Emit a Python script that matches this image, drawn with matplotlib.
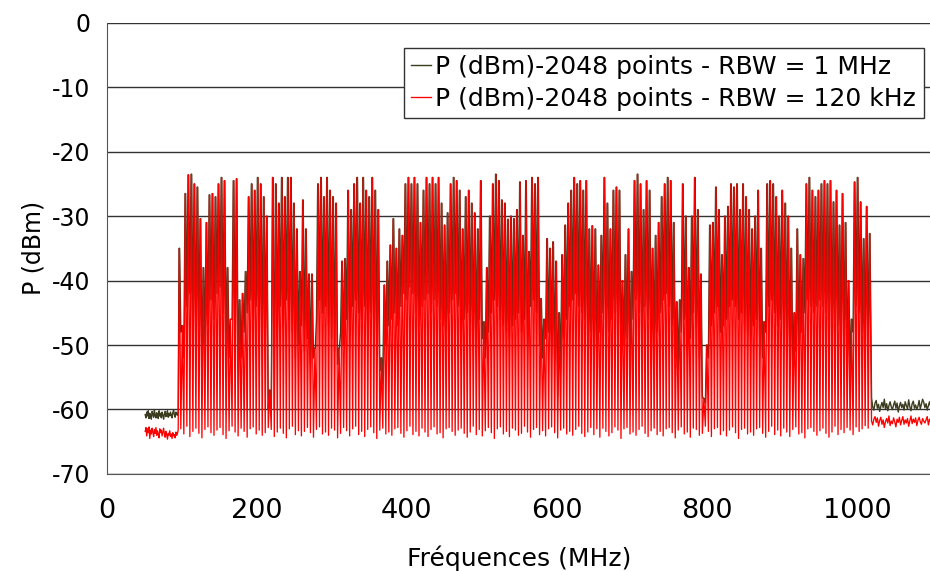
import numpy as np
import matplotlib
matplotlib.use("Agg")
import matplotlib.pyplot as plt

plt.rcParams['font.family'] = ['DejaVu Sans']
plt.rcParams['axes.unicode_minus'] = False

# carrier frequencies of the spectrum (MHz), one carrier every ~4 MHz
carrier_start = 96.5
carrier_step = 4.02
rbw_1mhz_halfwidth = 0.4  # a carrier seen through a 1 MHz filter is wider

# carrier peak levels (dBm) left to right
carrier_dbm = [
    -35, -47, -26.5, -23.6, -23.5, -25, -25.5, -30.4, -38, -31,
    -26.7, -26.5, -27, -25, -24, -24.5, -38, -46, -24.5, -24.2,
    -43, -42, -38.6, -27, -25, -26, -24, -25, -27, -30,
    -57, -24, -25, -28, -24, -27, -24, -24, -28, -32,
    -38.6, -27.5, -32, -39, -39, -50.5, -25, -24, -27, -24,
    -26, -27, -28, -50.5, -37, -36.6, -26, -29, -25, -24,
    -28, -24, -26, -27, -24, -26, -29, -52, -40.7, -37,
    -34.5, -30.4, -35, -32, -33, -25, -24, -25, -24, -25,
    -31, -26, -24, -25, -24, -25, -24, -28, -31.4, -29.5,
    -25, -24, -24.5, -26, -32, -27, -26, -28, -29.5, -32,
    -24.5, -46.4, -38, -30, -25, -23.5, -24.5, -27.5, -28, -30.5,
    -30, -30.4, -29, -24.7, -33, -24.5, -35.5, -24, -25, -24,
    -42.8, -46, -33.5, -35, -34, -37, -45, -36, -31.4, -28,
    -26, -24, -25, -24.5, -26, -24.5, -32, -31.5, -32, -37.6,
    -33, -24, -28, -32, -26, -25.5, -26, -40, -36, -32,
    -38.6, -24.5, -23.5, -25, -29, -24.5, -26, -35, -33, -31,
    -27, -25, -24, -24.5, -31, -43.3, -43, -25, -30, -38,
    -30, -24, -29, -39, -58.3, -50, -31.4, -31, -25.5, -29,
    -36, -30, -28.5, -25, -25.5, -25, -29, -25, -27, -29,
    -32, -30, -26, -35, -46.4, -25, -24.5, -25, -27, -30,
    -26, -28, -30, -35, -45, -32, -36, -36.6, -25, -24,
    -26, -27, -26, -25, -24.5, -25, -24.5, -27.8, -26, -31.4,
    -26.5, -31, -40, -46, -24.7, -24, -27.8, -33.5, -28.5, -32.7,
]

# level between two carriers with RBW = 1 MHz (dBm)
valley_1mhz = [
    -48, -52, -44, -42, -46, -49, -47, -54, -50, -47,
    -43, -46, -42, -41, -45, -50, -52, -46, -49, -54,
    -52, -48, -45, -43, -46, -44, -47, -50, -48, -60,
    -59, -60, -49, -44, -47, -43, -46, -48, -52, -50,
    -47, -51, -49, -53, -52, -46, -43, -45, -44, -47,
    -49, -51, -53, -48, -50, -46, -48, -44, -43, -45,
    -46, -44, -48, -45, -47, -50, -54, -56, -50, -47,
    -46, -45, -47, -44, -42, -43, -41, -42, -45, -47,
    -44, -43, -42, -45, -43, -44, -46, -47, -48, -45,
    -43, -42, -44, -48, -46, -45, -47, -49, -50, -46,
    -49, -52, -48, -45, -43, -44, -46, -47, -48, -49,
    -47, -46, -45, -48, -46, -50, -44, -43, -45, -50,
    -52, -49, -48, -50, -52, -58, -54, -49, -46, -44,
    -43, -42, -44, -45, -46, -49, -48, -50, -52, -48,
    -45, -47, -48, -46, -45, -47, -52, -50, -49, -54,
    -46, -43, -45, -47, -44, -46, -49, -50, -48, -45,
    -43, -42, -44, -47, -52, -54, -48, -46, -51, -49,
    -45, -47, -52, -58, -59, -52, -47, -45, -44, -48,
    -47, -46, -44, -43, -44, -46, -45, -47, -48, -49,
    -47, -46, -49, -52, -48, -44, -43, -45, -47, -46,
    -47, -49, -52, -54, -51, -50, -48, -45, -43, -44,
    -45, -44, -43, -44, -45, -46, -47, -46, -47, -49,
    -50, -52, -54, -48, -44, -45, -48, -49, -50,
]

# level between two carriers with RBW = 120 kHz (dBm)
valley_120k = [
    -63.0, -63.8, -62.6, -64.2, -63.4, -62.9, -63.7, -64.4, -63.1, -62.7,
    -63.6, -64.0, -63.2, -62.8, -63.9, -64.5, -63.3, -62.6, -63.5, -64.1,
    -62.9, -63.4, -64.3, -63.0, -62.7, -63.8, -63.2, -64.0, -63.6, -62.8,
    -63.1, -64.2, -63.5, -62.9, -63.7, -64.4, -63.0, -62.6, -63.9, -63.3,
    -64.1, -63.4, -62.8, -63.6, -64.3, -63.1, -62.7, -63.8, -63.5, -64.0,
    -62.9, -63.2, -64.4, -63.7, -62.8, -63.3, -64.1, -63.0, -62.6, -63.9,
    -63.4, -64.2, -63.1, -62.7, -63.6, -64.5, -63.2, -62.9, -63.8, -63.5,
    -64.0, -63.0, -62.8, -63.7, -64.3, -63.3, -62.6, -63.9, -63.4, -64.1,
    -62.9, -63.5, -64.2, -63.1, -62.7, -63.8, -63.6, -64.4, -63.0, -62.8,
    -63.4, -64.0, -63.2, -62.9, -63.7, -64.3, -63.5, -62.6, -63.9, -63.1,
    -64.1, -63.3, -62.8, -63.6, -64.5, -63.0, -62.7, -63.8, -63.4, -64.2,
    -62.9, -63.2, -64.0, -63.7, -62.6, -63.5, -64.3, -63.1, -62.8, -63.9,
    -63.3, -64.1, -63.0, -62.7, -63.6, -64.4, -63.2, -62.9, -63.8, -63.4,
    -64.0, -63.1, -62.6, -63.7, -64.2, -63.5, -62.8, -63.9, -63.0, -64.3,
    -62.9, -63.4, -64.1, -63.6, -62.7, -63.2, -64.5, -63.0, -62.8, -63.8,
    -63.5, -64.0, -63.1, -62.6, -63.7, -64.2, -63.3, -62.9, -63.9, -63.4,
    -64.1, -63.0, -62.8, -63.6, -64.4, -63.2, -62.7, -63.8, -63.5, -64.3,
    -62.9, -63.1, -64.0, -63.7, -62.6, -63.4, -64.2, -63.0, -62.8, -63.9,
    -63.3, -64.1, -63.2, -62.7, -63.6, -64.5, -63.1, -62.9, -63.8, -63.5,
    -64.0, -63.0, -62.8, -63.7, -64.3, -63.4, -62.6, -63.9, -63.2, -64.1,
    -62.9, -63.5, -64.2, -63.1, -62.7, -63.8, -63.6, -64.4, -63.0, -62.8,
    -63.4, -64.0, -63.3, -62.9, -63.7, -64.3, -63.5, -62.6, -63.9, -63.1,
    -63.6, -62.8, -63.2, -63.9, -62.7, -63.4, -63.0, -62.5, -62.9,
]

# noise floor outside the band, left part (51 - 94 MHz)
noise_left_1mhz = [
    -60.8, -61.3, -60.4, -61.0, -60.2, -61.4, -60.6, -60.9, -61.5, -60.3,
    -60.7, -61.2, -60.1, -60.9, -61.3, -60.5, -60.8, -61.4, -60.2, -61.0,
    -60.6, -61.3, -60.4, -60.9, -61.5, -60.7, -60.3, -61.1, -60.8, -60.2,
    -61.2, -60.6, -61.0, -60.4, -60.9, -61.3, -60.5, -60.1, -60.8, -61.2,
    -60.4, -60.7, -60.9, -60.3,
]
noise_left_120k = [
    -63.4, -62.8, -64.1, -63.0, -63.6, -62.7, -64.5, -63.2, -63.8, -62.9,
    -63.5, -64.2, -63.1, -63.7, -62.8, -64.0, -63.3, -63.9, -64.4, -63.0,
    -63.6, -63.2, -64.1, -63.5, -62.9, -63.8, -64.3, -63.4, -63.9, -64.6,
    -63.7, -64.0, -63.3, -64.2, -63.8, -64.5, -63.6, -64.1, -63.9, -64.4,
    -63.5, -64.0, -63.7, -63.2,
]

# noise floor outside the band, right part (1021 - 1100 MHz)
noise_right_1mhz = [
    -58.2, -59.6, -60.1, -59.0, -58.6, -59.8, -59.2, -60.3, -59.5, -58.9,
    -59.7, -58.4, -59.9, -59.1, -60.2, -59.4, -58.8, -59.6, -60.0, -59.3,
    -58.7, -59.8, -59.0, -60.4, -59.5, -58.9, -59.7, -59.2, -60.1, -58.8,
    -59.4, -59.9, -58.5, -59.6, -60.2, -59.1, -58.7, -59.8, -59.3, -60.0,
    -59.5, -58.6, -59.9, -59.2, -58.4, -58.9, -59.7, -59.1, -60.1, -59.4,
    -58.8, -59.6, -59.0,
]
noise_right_120k = [
    -61.8, -62.4, -61.5, -61.1, -62.0, -61.3, -62.6, -61.7, -61.2, -62.3,
    -61.6, -62.8, -61.9, -61.4, -62.1, -61.0, -62.5, -61.8, -62.2, -61.3,
    -61.9, -62.7, -61.5, -62.0, -61.2, -62.4, -61.7, -61.1, -62.3, -61.6,
    -62.1, -61.4, -62.6, -61.8, -61.0, -62.2, -61.5, -62.0, -61.3, -62.5,
    -61.7, -61.2, -61.9, -62.3, -61.4, -61.8, -62.1, -61.6, -61.1, -62.4,
    -61.5, -61.9, -61.3,
]

labels = ["P (dBm)-2048 points - RBW = 1 MHz", "P (dBm)-2048 points - RBW = 120 kHz"]
colors = ["#3b3b1e", "#ff0000"]


def trace(valleys, noise_left, noise_right, halfwidth=0.0):
    n = len(carrier_dbm)
    fc = carrier_start + carrier_step * np.arange(n)
    xs, ys = [], []
    for i in range(n):
        if halfwidth > 0:
            xs += [fc[i] - halfwidth, fc[i] + halfwidth]
            ys += [carrier_dbm[i], carrier_dbm[i]]
        else:
            xs.append(fc[i])
            ys.append(carrier_dbm[i])
        if i < n - 1:
            xs.append(fc[i] + carrier_step / 2)
            ys.append(valleys[i])
    xl = np.linspace(51, fc[0] - 1.5, len(noise_left))
    xr = np.linspace(fc[-1] + 2.5, 1100, len(noise_right))
    x = np.concatenate([xl, xs, xr])
    y = np.concatenate([noise_left, ys, noise_right])
    return x, y


fig = plt.figure(figsize=(9.3, 5.71), dpi=100)
ax = fig.add_axes([0.115, 0.170, 0.887, 0.790])

x1, y1 = trace(valley_1mhz, noise_left_1mhz, noise_right_1mhz, rbw_1mhz_halfwidth)
x2, y2 = trace(valley_120k, noise_left_120k, noise_right_120k)
ax.plot(x1, y1, color=colors[0], lw=1.0, label=labels[0], zorder=3)
ax.plot(x2, y2, color=colors[1], lw=0.95, label=labels[1], zorder=4)

ax.set_xlim(0, 1100)
ax.set_ylim(-70, 0)
ax.set_xticks([0, 200, 400, 600, 800, 1000])
ax.set_yticks(np.arange(-70, 1, 10))
ax.yaxis.grid(True, color="#333333", lw=1.0)
ax.set_axisbelow(True)
for s in ["top", "right"]:
    ax.spines[s].set_visible(False)
ax.spines["left"].set_color("#555555")
ax.spines["bottom"].set_color("#555555")
ax.tick_params(length=0)
ax.tick_params(axis="y", pad=12, labelsize=17)
ax.tick_params(axis="x", pad=17, labelsize=19.5)

ax.set_xlabel("Fréquences (MHz)", fontsize=18, labelpad=16)
ax.set_ylabel("P (dBm)", fontsize=17, labelpad=4)

leg = ax.legend(loc="upper right", bbox_to_anchor=(0.99, 0.945), fontsize=18,
                frameon=True, fancybox=False, edgecolor="#333333", framealpha=1,
                handlelength=0.8, handletextpad=0.15, borderpad=0.3, labelspacing=0.3,
                borderaxespad=0)
leg.get_frame().set_linewidth(1.0)

fig.savefig("out.png", dpi=100)
